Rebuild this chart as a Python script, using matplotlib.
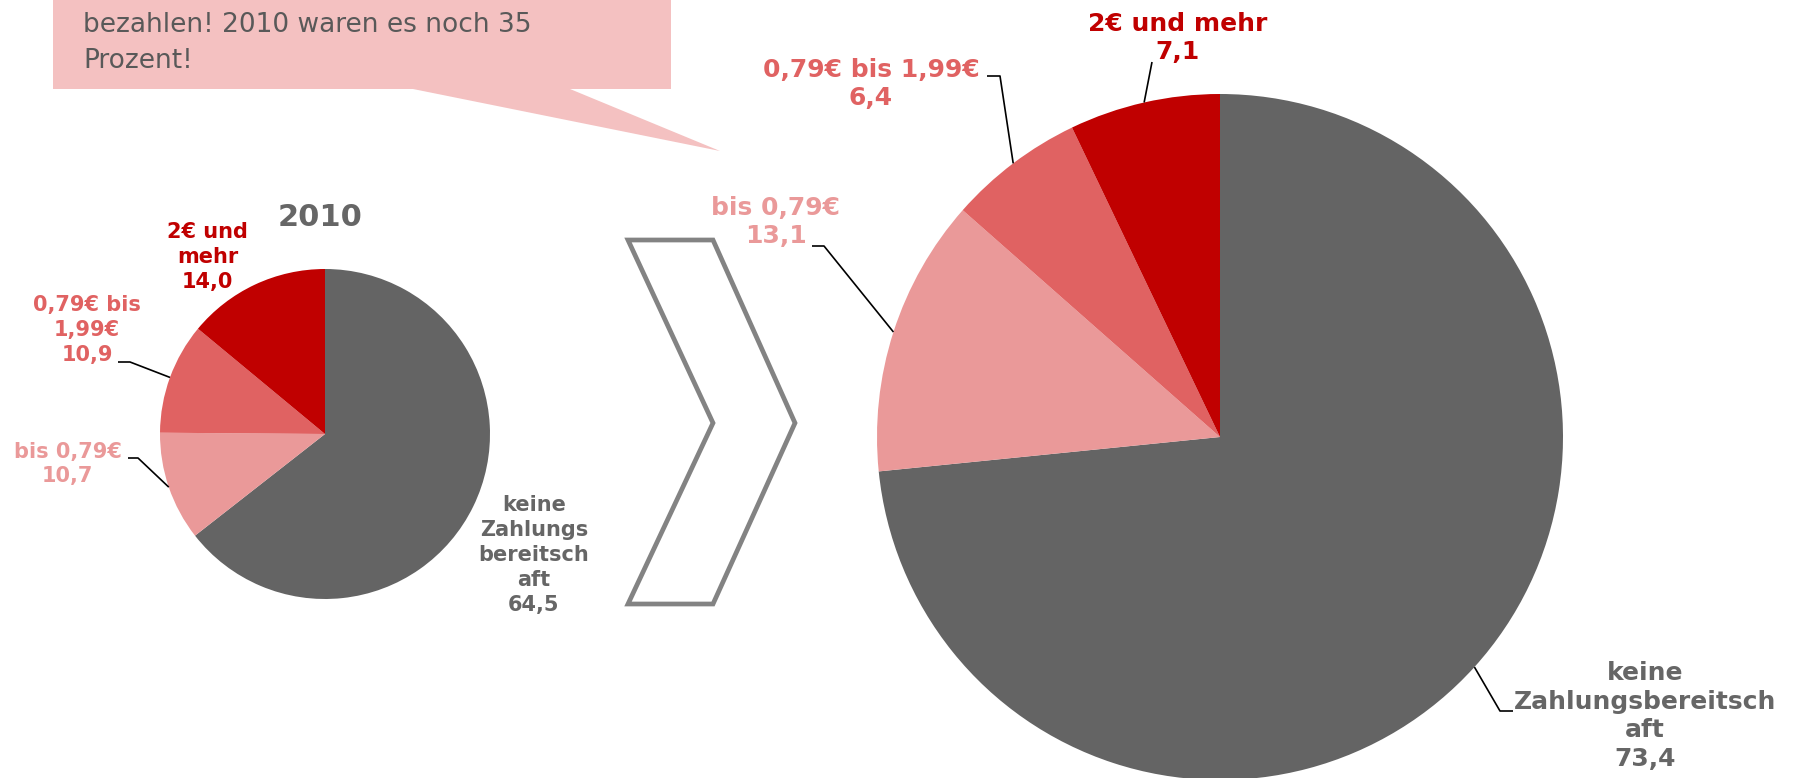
import numpy as np
import matplotlib.pyplot as plt
from matplotlib.patches import Polygon

# Zahlungsbereitschaft (Prozent), Reihenfolge im Uhrzeigersinn ab 12 Uhr
categories = ['keine Zahlungsbereitschaft', 'bis 0,79€', '0,79€ bis 1,99€', '2€ und mehr']
values_2010 = [64.5, 10.7, 10.9, 14.0]
values_now = [73.4, 13.1, 6.4, 7.1]
# Beschriftungen mit den Umbruechen wie im Original
labels_2010 = ['keine\nZahlungs\nbereitsch\naft', 'bis 0,79€', '0,79€ bis\n1,99€', '2€ und\nmehr']
labels_now = ['keine\nZahlungsbereitsch\naft', 'bis 0,79€', '0,79€ bis 1,99€', '2€ und mehr']
bubble_lines = ['bezahlen! 2010 waren es noch 35', 'Prozent!']

colors = ['#646464', '#EA9999', '#E06262', '#C00000']
text_colors = ['#666666', '#EA9999', '#E06262', '#C00000']

W, H = 1799, 778
fig = plt.figure(figsize=(W/100, H/100), dpi=100)
ax = fig.add_axes([0, 0, 1, 1])

def fmt(v):
    return f'{v:.1f}'.replace('.', ',')

def draw_pie(values, labels, center, radius, label_pos, elbows, fs, ls):
    # y-Achse zeigt nach unten (Pixelkoordinaten) -> Start bei -90, "counterclock" = visuell im Uhrzeigersinn
    wedges, _ = ax.pie(values, colors=colors, startangle=-90, counterclock=True,
                       center=center, radius=radius, wedgeprops=dict(linewidth=0))
    for i, w in enumerate(wedges):
        tx, ty = label_pos[i]
        ax.text(tx, ty, labels[i] + '\n' + fmt(values[i]), ha='center', va='center',
                fontsize=fs, fontweight='bold', color=text_colors[i], linespacing=ls,
                family='DejaVu Sans')
        if elbows[i] is None:
            continue
        mid = np.deg2rad((w.theta1 + w.theta2) / 2)
        ax_pt = (center[0] + radius*np.cos(mid), center[1] + radius*np.sin(mid))
        pts = list(elbows[i]) + [ax_pt]
        ax.plot([p[0] for p in pts], [p[1] for p in pts], color='black', lw=1.2,
                solid_capstyle='butt')

# kleine Torte 2010
draw_pie(values_2010, labels_2010, (325, 434), 165,
         label_pos=[(534, 555), (67.5, 464), (87, 330), (207.5, 257)],
         elbows=[None, [(128, 458), (138, 458)], [(118, 362), (130, 362)], None],
         fs=15, ls=1.31)
ax.text(320, 217, '2010', ha='center', va='center', fontsize=22, fontweight='bold',
        color='#666666')

# grosse Torte heute
draw_pie(values_now, labels_now, (1220, 437), 343,
         label_pos=[(1645, 716), (776, 222), (871, 84), (1178, 38)],
         elbows=[[(1513, 711), (1500, 711)], [(812, 246), (824, 246)],
                 [(987, 76), (1000, 76)], [(1152, 62)]],
         fs=18, ls=1.23)

# Pfeil (Chevron) zwischen den Torten
chev = Polygon([(628, 240), (713, 240), (795, 423), (713, 604), (628, 604), (713, 423)],
               closed=True, fill=False, edgecolor='#838383', lw=3.4, joinstyle='miter')
ax.add_patch(chev)

# Sprechblase oben links
bubble = Polygon([(53, -5), (671, -5), (671, 89), (570, 89), (720, 151), (413, 89), (53, 89)],
                 closed=True, facecolor='#F4C1C1', edgecolor='none')
ax.add_patch(bubble)
ax.text(83, 43, '\n'.join(bubble_lines), ha='left', va='center', fontsize=19,
        color='#595959', linespacing=1.5)

ax.set_xlim(0, W)
ax.set_ylim(H, 0)
ax.set_aspect('auto')
ax.axis('off')

fig.savefig('out.png', dpi=100, facecolor='white')
